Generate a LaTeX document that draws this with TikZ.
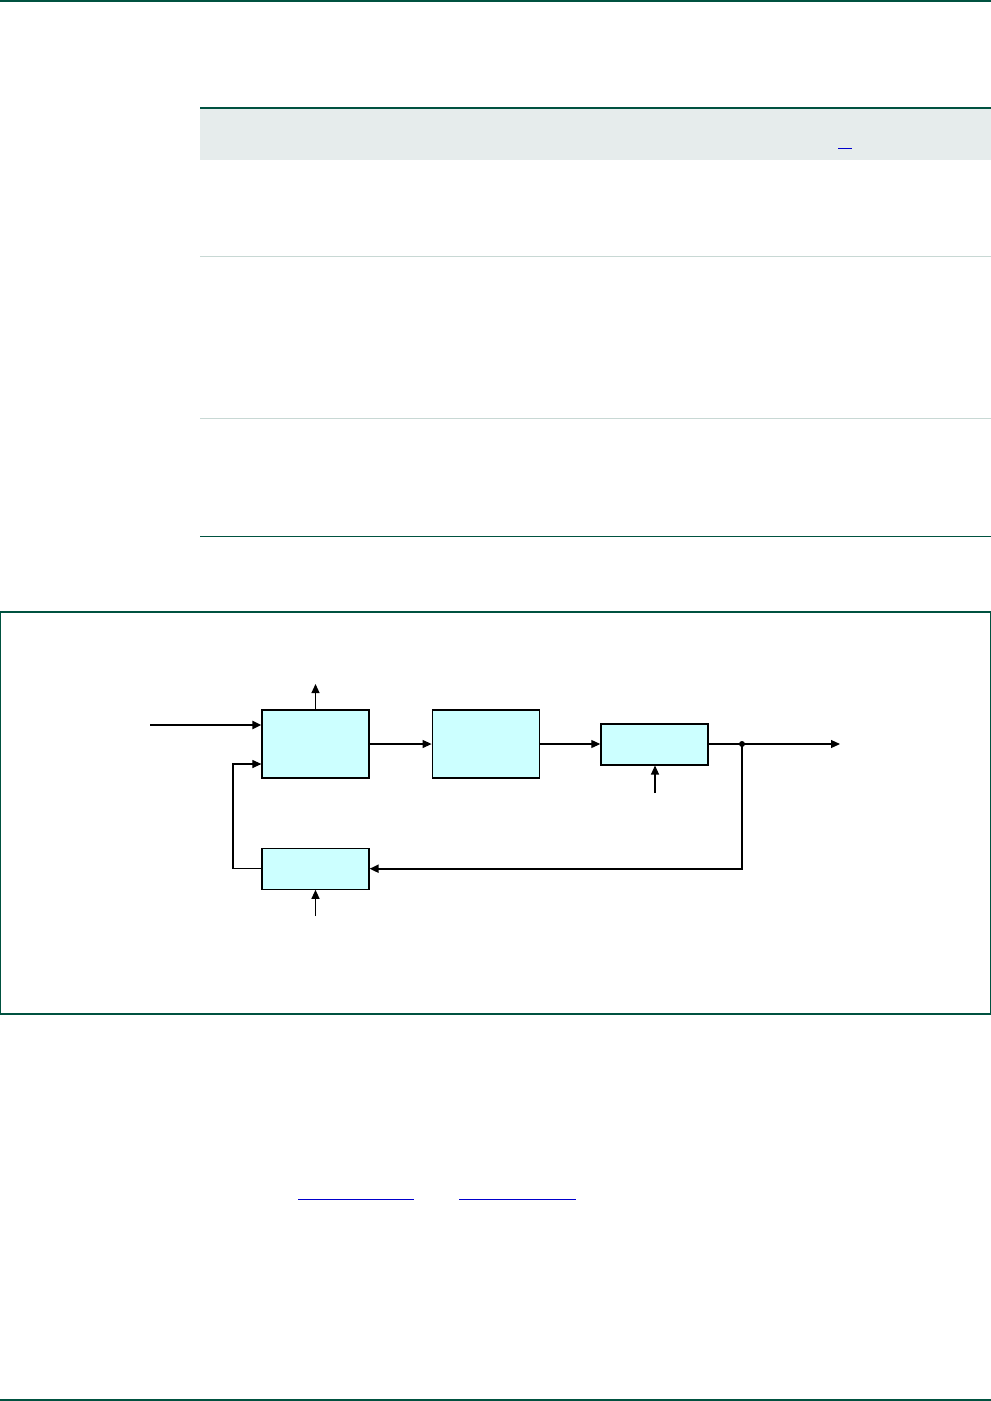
\documentclass[tikz,border=0pt]{standalone}
\usepackage{tikz}
\usetikzlibrary{positioning, arrows.meta}
\definecolor{clPage}    {RGB}{  0, 82, 64}
\definecolor{clHead}    {RGB}{230,236,236}
\definecolor{clRule}    {RGB}{200,216,212}
\definecolor{clBlock}   {RGB}{204,255,255}
\definecolor{clLink}    {RGB}{  0,  0,204}
\tikzset{
  %% page rules
  pageRule/.style={draw=clPage, line width=1.4pt},
  thinRule/.style={draw=clRule, line width=0.8pt},
  %% block of the loop
  block/.style={
    rectangle, draw, line width=1.2pt, fill=clBlock,
    minimum width=107pt, minimum height=68pt, inner sep=0pt
  },
  flatBlock/.style={block, minimum height=41pt},
  %% arrows
  arr/.style={
    -{Triangle[length=9pt, width=8pt]},
    line width=1.1pt, color=black
  },
  arrThick/.style={arr, line width=2pt}
}
\begin{document}
\begin{tikzpicture}[x=1pt, y=-1pt]
\useasboundingbox (0,0) rectangle (991,1401);

%% ═══════════════════════════════════════════════════════════════
%%  PAGE — header rule, table, footer rule
%% ═══════════════════════════════════════════════════════════════

\draw[pageRule] (0,1) -- (991,1);

\fill[clHead] (200,109) rectangle (991,160);
\draw[pageRule] (200,108) -- (991,108);
\draw[clLink, line width=1pt] (838,148) -- (852,148);
\draw[thinRule] (200,256) -- (991,256);
\draw[thinRule] (200,418) -- (991,418);
\draw[draw=clPage, line width=1pt] (200,536) -- (991,536);

\draw[clLink, line width=1pt] (298,1199) -- (414,1199);
\draw[clLink, line width=1pt] (459,1199) -- (576,1199);

\draw[pageRule] (0,1400) -- (991,1400);

%% ═══════════════════════════════════════════════════════════════
%%  FIGURE FRAME
%% ═══════════════════════════════════════════════════════════════

\draw[draw=clPage, line width=1.2pt] (0.6,612) rectangle (990.4,1014);

%% ═══════════════════════════════════════════════════════════════
%%  FORWARD PATH
%% ═══════════════════════════════════════════════════════════════

\node[block] (mix) at (315.5,744) {};

\node[block, right=62pt of mix] (filt) {};

\node[flatBlock, right=60.5pt of filt, line width=2pt] (amp) {};

%% ═══════════════════════════════════════════════════════════════
%%  FEEDBACK PATH
%% ═══════════════════════════════════════════════════════════════

\node[flatBlock, below=69pt of mix] (fbk) {};

%% free ends
\coordinate (src)   at (150,725);
\coordinate (tap)   at (315.5,684);
\coordinate (out)   at (840,744);
\coordinate (split) at (742,744);
\coordinate (ret)   at (233,764);
\coordinate (ctlA)  at (655,793);
\coordinate (ctlF)  at (315.5,916);

%% ═══════════════════════════════════════════════════════════════
%%  ARROWS — Forward
%% ═══════════════════════════════════════════════════════════════

\draw[arrThick] (src) -- (mix.west |- src);

\draw[arr] (mix.north) -- (tap);

\draw[arr] (mix) -- (filt);

\draw[arr] (filt) -- (amp);

\draw[arr] (amp) -- (out);
\fill (split) circle (3pt);

\draw[arr] (ctlA) -- (ctlA |- amp.south);

%% ═══════════════════════════════════════════════════════════════
%%  ARROWS — Loop back
%% ═══════════════════════════════════════════════════════════════

\draw[arrThick] (split) |- (fbk.east);

\draw[arr] (fbk.west) -| (ret) -- (mix.west |- ret);

\draw[arr] (ctlF) -- (fbk.south);

\end{tikzpicture}
\end{document}
